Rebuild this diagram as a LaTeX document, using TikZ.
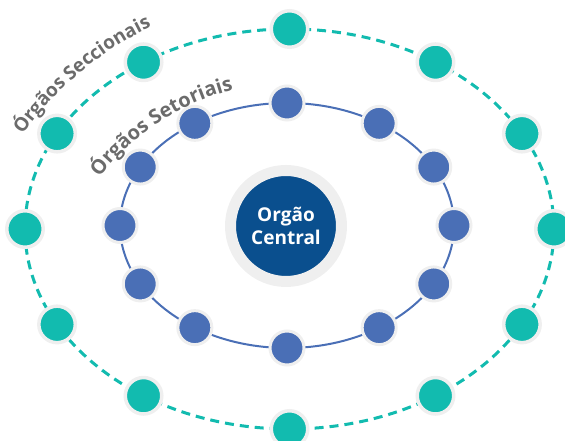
\documentclass[tikz,border=0pt]{standalone}
\usepackage{fontspec}
\setmainfont{Open Sans}
\usetikzlibrary{decorations.text}

\definecolor{tuerkis}{HTML}{12BBAF}
\definecolor{mittelblau}{HTML}{4A6FB6}
\definecolor{dunkelblau}{HTML}{0A4F8E}
\definecolor{ringgrau}{HTML}{EFEFEF}
\definecolor{schrift}{HTML}{6B6B6B}

\begin{document}
\begin{tikzpicture}[x=1pt,y=1pt,
	aussen/.style={circle,fill=tuerkis,draw=ringgrau,line width=3.5pt,inner sep=0pt,minimum size=36.5pt},
	innen/.style={circle,fill=mittelblau,draw=ringgrau,line width=3pt,inner sep=0pt,minimum size=34pt}]
		\useasboundingbox (0,0) rectangle (565,441);
		% Mittelpunkte
		\coordinate (MA) at (289.5,212);
		\coordinate (MI) at (287,215.5);
		\coordinate (MB) at (291.5,116.4);
		
		% Ellipsen
		\draw[tuerkis,line width=3pt,dash pattern=on 9pt off 6pt] (MA) ellipse[x radius=264.5,y radius=200];
		\draw[mittelblau,line width=2pt] (MI) ellipse[x radius=167,y radius=122.5];
		
		% Punkte
		\foreach \w [count=\i] in {0,28.5,56.5,90,123.5,151.5,180,208.5,236.5,270,303.5,331.5}{
			\node[aussen] (A\i) at ([shift={(\w:264.5 and 200)}]MA) {};
			\node[innen] (I\i) at ([shift={(\w:167 and 122.5)}]MI) {};
		}
		
		% Zentrum
		\node[circle,fill=dunkelblau,draw=ringgrau,line width=11pt,minimum size=111pt,inner sep=0pt,
			text=white,align=center,font=\bfseries\fontsize{19}{23}\selectfont] (Z) at (286,215) {Orgão\\Central};
		
		% Beschriftung
		\path[decorate,decoration={text along path,text align=center,
			text={|\bfseries\fontsize{19}{19}\selectfont\color{schrift}|Órgãos Seccionais}}]
			([shift={(155:329)}]MB) arc[start angle=155,end angle=105,radius=329];
		\path[decorate,decoration={text along path,text align=center,
			text={|\bfseries\fontsize{20}{20}\selectfont\color{schrift}|Órgãos Setoriais}}]
			([shift={(148.2:242)}]MB) arc[start angle=148.2,end angle=98.2,radius=242];
	\end{tikzpicture}
\end{document}
